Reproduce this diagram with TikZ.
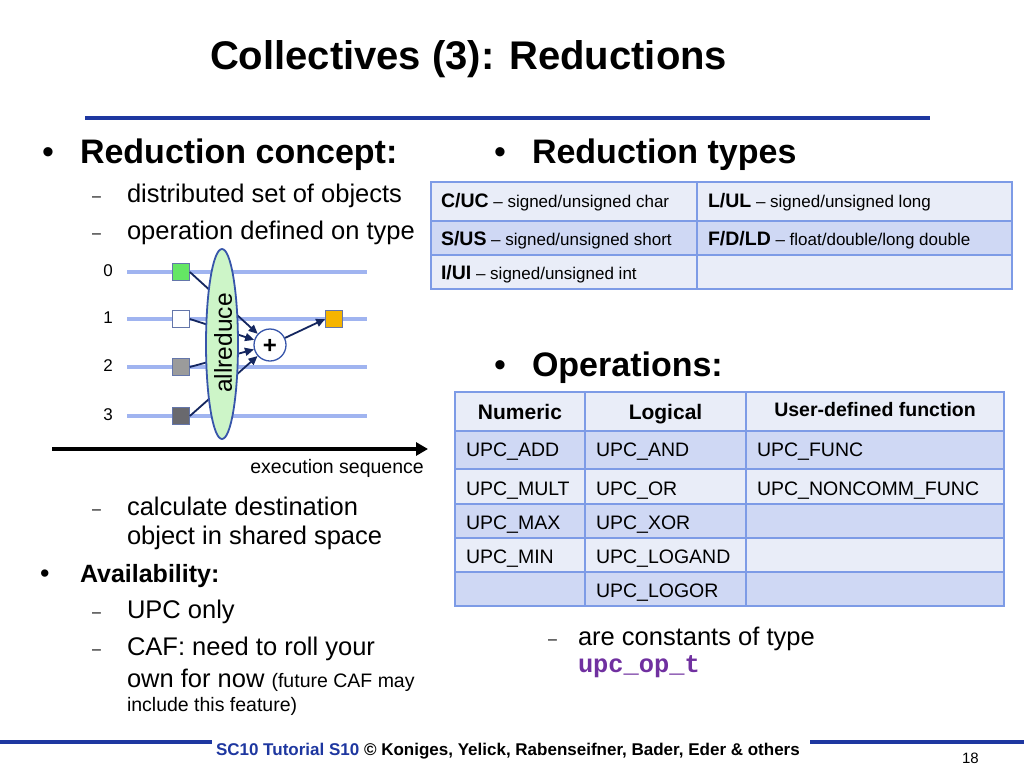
\documentclass[tikz,border=0pt]{standalone}
\usepackage{fontspec}
\setmainfont{Liberation Sans}
\setmonofont{Liberation Mono}
\usetikzlibrary{arrows.meta,shapes.geometric}

\definecolor{titleblue}{RGB}{30,55,160}
\definecolor{lineblue}{RGB}{160,180,240}
\definecolor{navy}{RGB}{20,38,95}
\definecolor{tborder}{RGB}{125,155,230}
\definecolor{tlight}{RGB}{233,237,248}
\definecolor{tdark}{RGB}{207,216,244}
\definecolor{elfill}{RGB}{205,245,200}
\definecolor{elborder}{RGB}{55,85,170}
\definecolor{sqborder}{RGB}{100,118,170}
\definecolor{sqgreen}{RGB}{100,230,100}
\definecolor{sqgrey}{RGB}{155,155,155}
\definecolor{sqdark}{RGB}{105,105,110}
\definecolor{sqorange}{RGB}{245,180,0}
\definecolor{codepurple}{RGB}{112,48,160}

\newcommand{\fs}[1]{\fontsize{#1}{#1}\selectfont}

\begin{document}
\begin{tikzpicture}[x=1pt,y=-1pt,
  txt/.style={inner sep=0pt, outer sep=0pt, anchor=base west},
  ctxt/.style={inner sep=0pt, outer sep=0pt, anchor=base},
  big/.style={font=\bfseries\fs{34}},
  sub/.style={font=\fs{25.5}},
  dsh/.style={txt, font=\fs{16}},
  tline/.style={lineblue, line width=4pt},
  sq/.style={draw=sqborder, line width=1.2pt, minimum size=16.5pt, inner sep=0pt},
  conn/.style={navy, line width=1.8pt, -{Triangle[length=9pt,width=8pt]}},
  grid/.style={draw=tborder, line width=1.3pt},
  cell/.style={txt, font=\fs{19.5}},
  rule/.style={titleblue, line width=4pt}
]
\useasboundingbox[fill=white] (0,0) rectangle (1024,768);

% title
\node[txt, font=\bfseries\fs{40}] (title) at (210,69) {Collectives (3): Reductions};
\draw[rule] (85,118) -- (930,118);

% left column
\node[txt, font=\fs{34}] (b1) at (42,163) {•};
\node[txt, big] (h1) at (80,163) {Reduction concept:};
\node[dsh] (d1) at (92,201) {–};
\node[txt, sub] (s1) at (127,202) {distributed set of objects};
\node[dsh] (d2) at (92,238) {–};
\node[txt, sub] (s2) at (127,239) {operation defined on type};

% diagram
\foreach \i/\y in {0/272,1/319,2/367,3/416}{
  \node[font=\fs{17}, inner sep=0pt] (lab\i) at (108,\y-1) {\i};
  \draw[tline] (127,\y) -- (367,\y);
}
\node[sq, fill=sqgreen] (q0) at (181,272) {};
\node[sq, fill=white] (q1) at (181,319) {};
\node[sq, fill=sqgrey] (q2) at (181,367) {};
\node[sq, fill=sqdark] (q3) at (181,416) {};
\node[sq, fill=sqorange] (qout) at (334,319) {};
\node[circle, draw=elborder, fill=white, line width=1.3pt, minimum size=32pt, inner sep=0pt] (plus) at (270,345) {};
\draw[conn] (q0.east) -- (plus);
\draw[conn] (q1.east) -- (plus);
\draw[conn] (q2.east) -- (plus);
\draw[conn] (q3.east) -- (plus);
\node[ellipse, draw=elborder, fill=elfill, line width=1.8pt, minimum width=32pt, minimum height=190pt, inner sep=0pt] (ell) at (222,344) {};
\node[rotate=90, font=\fs{24.5}, inner sep=0pt] (allr) at (223,343) {allreduce};
\node[font=\bfseries\fs{24}, inner sep=0pt] (plustxt) at (270,346) {+};
\draw[conn] (plus) -- (qout.west);

\coordinate (es) at (52,449);
\coordinate (ee) at (428,449);
\draw[black, line width=3.5pt, -{Triangle[length=12pt,width=13pt]}] (es) -- (ee);
\node[inner sep=0pt, anchor=base east, font=\fs{19.5}] (exs) at (424,473) {execution sequence};

\node[dsh] (d3) at (92,514) {–};
\node[txt, sub] (s3) at (127,515) {calculate destination};
\node[txt, sub] (s3b) at (127,544) {object in shared space};
\node[txt, font=\fs{27}] (b2) at (40,582) {•};
\node[txt, font=\bfseries\fs{25}] (h2) at (80,582) {Availability:};
\node[dsh] (d4) at (92,617) {–};
\node[txt, sub] (s4) at (127,618) {UPC only};
\node[dsh] (d5) at (92,654) {–};
\node[txt, sub] (s5) at (127,655) {CAF: need to roll your};
\node[txt, sub] (s5b) at (127,687) {own for now {\fs{19.5}(future CAF may}};
\node[txt, font=\fs{19.5}] (s5c) at (127,711) {include this feature)};

% right column: reduction types
\node[txt, font=\fs{34}] (b3) at (494,163) {•};
\node[txt, big] (h3) at (532,163) {Reduction types};

\fill[tlight] (431,182) rectangle (1012,221);
\fill[tdark]  (431,221) rectangle (1012,255);
\fill[tlight] (431,255) rectangle (1012,289);
\draw[grid] (431,182) rectangle (1012,289);
\draw[grid] (431,221) -- (1012,221);
\draw[grid] (431,255) -- (1012,255);
\draw[grid] (697,182) -- (697,289);

\node[txt] (ta1) at (441,207) {{\bfseries\fs{19.5}C/UC}{\fs{17} – signed/unsigned char}};
\node[txt] (tb1) at (708,207) {{\bfseries\fs{19.5}L/UL}{\fs{17} – signed/unsigned long}};
\node[txt] (ta2) at (441,245) {{\bfseries\fs{19.5}S/US}{\fs{17} – signed/unsigned short}};
\node[txt] (tb2) at (708,245) {{\bfseries\fs{19.5}F/D/LD}{\fs{17} – float/double/long double}};
\node[txt] (ta3) at (441,279) {{\bfseries\fs{19.5}I/UI}{\fs{17} – signed/unsigned int}};

% operations
\node[txt, font=\fs{34}] (b4) at (494,376) {•};
\node[txt, big] (h4) at (532,376) {Operations:};

\fill[tlight] (455,392) rectangle (1004,431);
\fill[tdark]  (455,431) rectangle (1004,469);
\fill[tlight] (455,469) rectangle (1004,504);
\fill[tdark]  (455,504) rectangle (1004,538);
\fill[tlight] (455,538) rectangle (1004,572);
\fill[tdark]  (455,572) rectangle (1004,606);
\draw[grid] (455,392) rectangle (1004,606);
\foreach \y in {431,469,504,538,572}{\draw[grid] (455,\y) -- (1004,\y);}
\draw[grid] (585,392) -- (585,606);
\draw[grid] (746,392) -- (746,606);

\node[ctxt, font=\bfseries\fs{21}] (hn) at (520,419) {Numeric};
\node[ctxt, font=\bfseries\fs{21}] (hl) at (665.5,419) {Logical};
\node[ctxt, font=\bfseries\fs{19.5}] (hu) at (875,416) {User-defined function};

\node[cell] (n1) at (466,456) {UPC\_ADD};
\node[cell] (n2) at (466,495) {UPC\_MULT};
\node[cell] (n3) at (466,529) {UPC\_MAX};
\node[cell] (n4) at (466,563) {UPC\_MIN};
\node[cell] (g1) at (596,456) {UPC\_AND};
\node[cell] (g2) at (596,495) {UPC\_OR};
\node[cell] (g3) at (596,529) {UPC\_XOR};
\node[cell] (g4) at (596,563) {UPC\_LOGAND};
\node[cell] (g5) at (596,597) {UPC\_LOGOR};
\node[cell] (u1) at (757,456) {UPC\_FUNC};
\node[cell] (u2) at (757,495) {UPC\_NONCOMM\_FUNC};

\node[dsh] (d6) at (548,644) {–};
\node[txt, sub] (s6) at (578,645) {are constants of type};
\node[txt, font=\ttfamily\bfseries\fs{25.4}, text=codepurple] (code) at (578,672) {upc\_op\_t};

% footer
\draw[rule] (0,742) -- (212,742);
\draw[rule] (810,742) -- (1024,742);
\node[txt, font=\bfseries\fs{17}] (foot) at (216,755) {\textcolor{titleblue}{SC10 Tutorial S10} © Koniges, Yelick, Rabenseifner, Bader, Eder \& others};
\node[txt, font=\fs{15}] (page) at (962,763) {18};
\end{tikzpicture}
\end{document}
